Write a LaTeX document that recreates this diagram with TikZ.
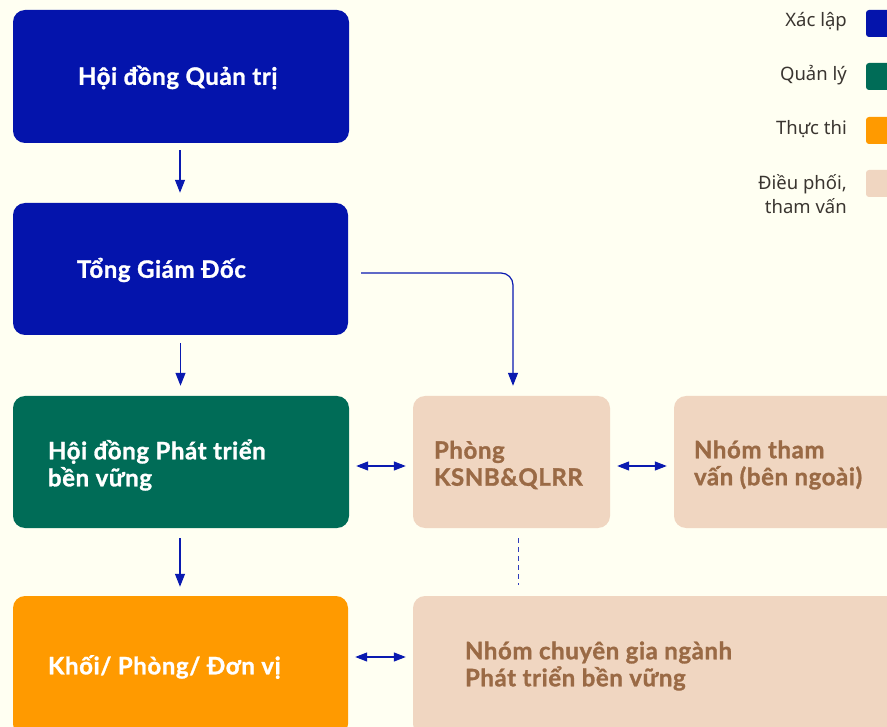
\documentclass[tikz,border=0pt]{standalone}
\usepackage{fontspec}
\setmainfont{Lato}
\newfontfamily\headfont{Lato}[BoldFeatures={FakeBold=1.2}, LetterSpace=2.5]
\newfontfamily\legfont{Noto Sans}
\usetikzlibrary{arrows.meta}

\definecolor{bgcol}{HTML}{FFFFF2}
\definecolor{xaclap}{HTML}{0414AC}
\definecolor{quanly}{HTML}{006C57}
\definecolor{thucthi}{HTML}{FF9A00}
\definecolor{dieuphoi}{HTML}{F0D6C1}
\definecolor{nauchu}{HTML}{9A6A45}
\definecolor{legchu}{HTML}{3A3530}
\definecolor{muiten}{HTML}{0A1AB0}

\begin{document}
\begin{tikzpicture}[x=1pt,y=1pt,yscale=-1,
  box/.style={rectangle, rounded corners=12pt, draw=none, inner sep=0pt},
  boxtext/.style={anchor=west, align=left, inner sep=0pt, font=\headfont\bfseries\fontsize{24}{27}\selectfont},
  legsq/.style={rectangle, rounded corners=3pt, draw=none, minimum width=34pt, minimum height=27pt},
  legtext/.style={anchor=east, align=right, inner sep=0pt, text=legchu, font=\legfont\fontsize{18.5}{24}\selectfont},
  flow/.style={draw=muiten, line width=1.2pt, -{Triangle[length=13pt,width=10pt]}},
  both/.style={draw=muiten, line width=1.2pt, {Triangle[length=12pt,width=9pt]}-{Triangle[length=12pt,width=9pt]}, shorten <=7pt, shorten >=7pt}
]
%set diagram to the size of the reference
\useasboundingbox (0,0) rectangle (887,727);
\clip (0,0) rectangle (887,727);
\fill[bgcol] (0,0) rectangle (887,727);

%Shape: Rectangle [Hoi dong Quan tri]
\node[box, fill=xaclap, minimum width=336pt, minimum height=133pt] (hdqt) at (181,76.5) {};
%Shape: Rectangle [Tong Giam Doc]
\node[box, fill=xaclap, minimum width=335pt, minimum height=132pt] (tgd) at (180.5,269) {};
%Shape: Rectangle [Hoi dong PTBV]
\node[box, fill=quanly, minimum width=336pt, minimum height=132pt] (hdpt) at (181,462) {};
%Shape: Rectangle [Khoi Phong Don vi]
\node[box, fill=thucthi, minimum width=335pt, minimum height=140pt] (khoi) at (180.5,666) {};
%Shape: Rectangle [Phong KSNB]
\node[box, fill=dieuphoi, minimum width=197pt, minimum height=132pt] (ksnb) at (511.5,462) {};
%Shape: Rectangle [Nhom tham van]
\node[box, fill=dieuphoi, minimum width=236pt, minimum height=132pt] (thamvan) at (792,462) {};
%Shape: Rectangle [Nhom chuyen gia]
\node[box, fill=dieuphoi, minimum width=497pt, minimum height=140pt] (chuyengia) at (661.5,666) {};

% Text Node
\node[boxtext, text=white] (thdqt) at ([xshift=65,yshift=1]hdqt.west) {Hội đồng Quản trị};
% Text Node
\node[boxtext, text=white] (ttgd) at ([xshift=64,yshift=1]tgd.west) {Tổng Giám Đốc};
% Text Node
\node[boxtext, text=white] (thdpt) at ([xshift=35,yshift=3]hdpt.west) {Hội đồng Phát triển\\bền vững};
% Text Node
\node[boxtext, text=white] (tkhoi) at ([xshift=35,yshift=1]khoi.west) {Khối/ Phòng/ Đơn vị};
% Text Node
\node[boxtext, text=nauchu] (tksnb) at ([xshift=21,yshift=3]ksnb.west) {Phòng\\KSNB\&QLRR};
% Text Node
\node[boxtext, text=nauchu] (tthamvan) at ([xshift=20,yshift=3]thamvan.west) {Nhóm tham\\vấn (bên ngoài)};
% Text Node
\node[boxtext, text=nauchu] (tchuyengia) at ([xshift=52,yshift=0]chuyengia.west) {Nhóm chuyên gia ngành\\Phát triển bền vững};

%Straight Lines
\draw[flow, shorten <=7pt, shorten >=10pt] ([xshift=-1]hdqt.south) -- ([xshift=-1]hdqt.south |- tgd.north);
\draw[flow, shorten <=8pt, shorten >=10pt] (tgd.south) -- (tgd.south |- hdpt.north);
\draw[flow, shorten <=10pt, shorten >=9pt] ([xshift=-1]hdpt.south) -- ([xshift=-1]hdpt.south |- khoi.north);
\draw[flow, rounded corners=12pt, shorten <=13pt, shorten >=10pt] ([yshift=4]tgd.east) -| ([xshift=1.5]ksnb.north);

%Double arrows
\draw[both] ([yshift=4]hdpt.east) -- ([yshift=4]ksnb.west);
\draw[both] ([yshift=4]ksnb.east) -- ([yshift=4]thamvan.west);
\draw[both] ([yshift=-9]khoi.east) -- ([yshift=-9]khoi.east -| chuyengia.west);

%Dashed line
\draw[draw=muiten!85!white, line width=1pt, dash pattern=on 5pt off 4pt, shorten <=10pt, shorten >=11pt] ([xshift=6.5]ksnb.south) -- ([xshift=6.5]ksnb.south |- chuyengia.north);

%Legend
\node[legsq, fill=xaclap] (sqxaclap) at (883,23.5) {};
\node[legsq, fill=quanly] (sqquanly) at (883,76.5) {};
\node[legsq, fill=thucthi] (sqthucthi) at (883,130.5) {};
\node[legsq, fill=dieuphoi] (sqdieuphoi) at (883,183.5) {};
\node[legtext] (lxaclap) at (847,22) {Xác lập};
\node[legtext] (lquanly) at (847,75) {Quản lý};
\node[legtext] (lthucthi) at (847,129) {Thực thi};
\node[legtext] (ldieuphoi) at (847,194) {Điều phối,\\tham vấn};

\end{tikzpicture}
\end{document}
